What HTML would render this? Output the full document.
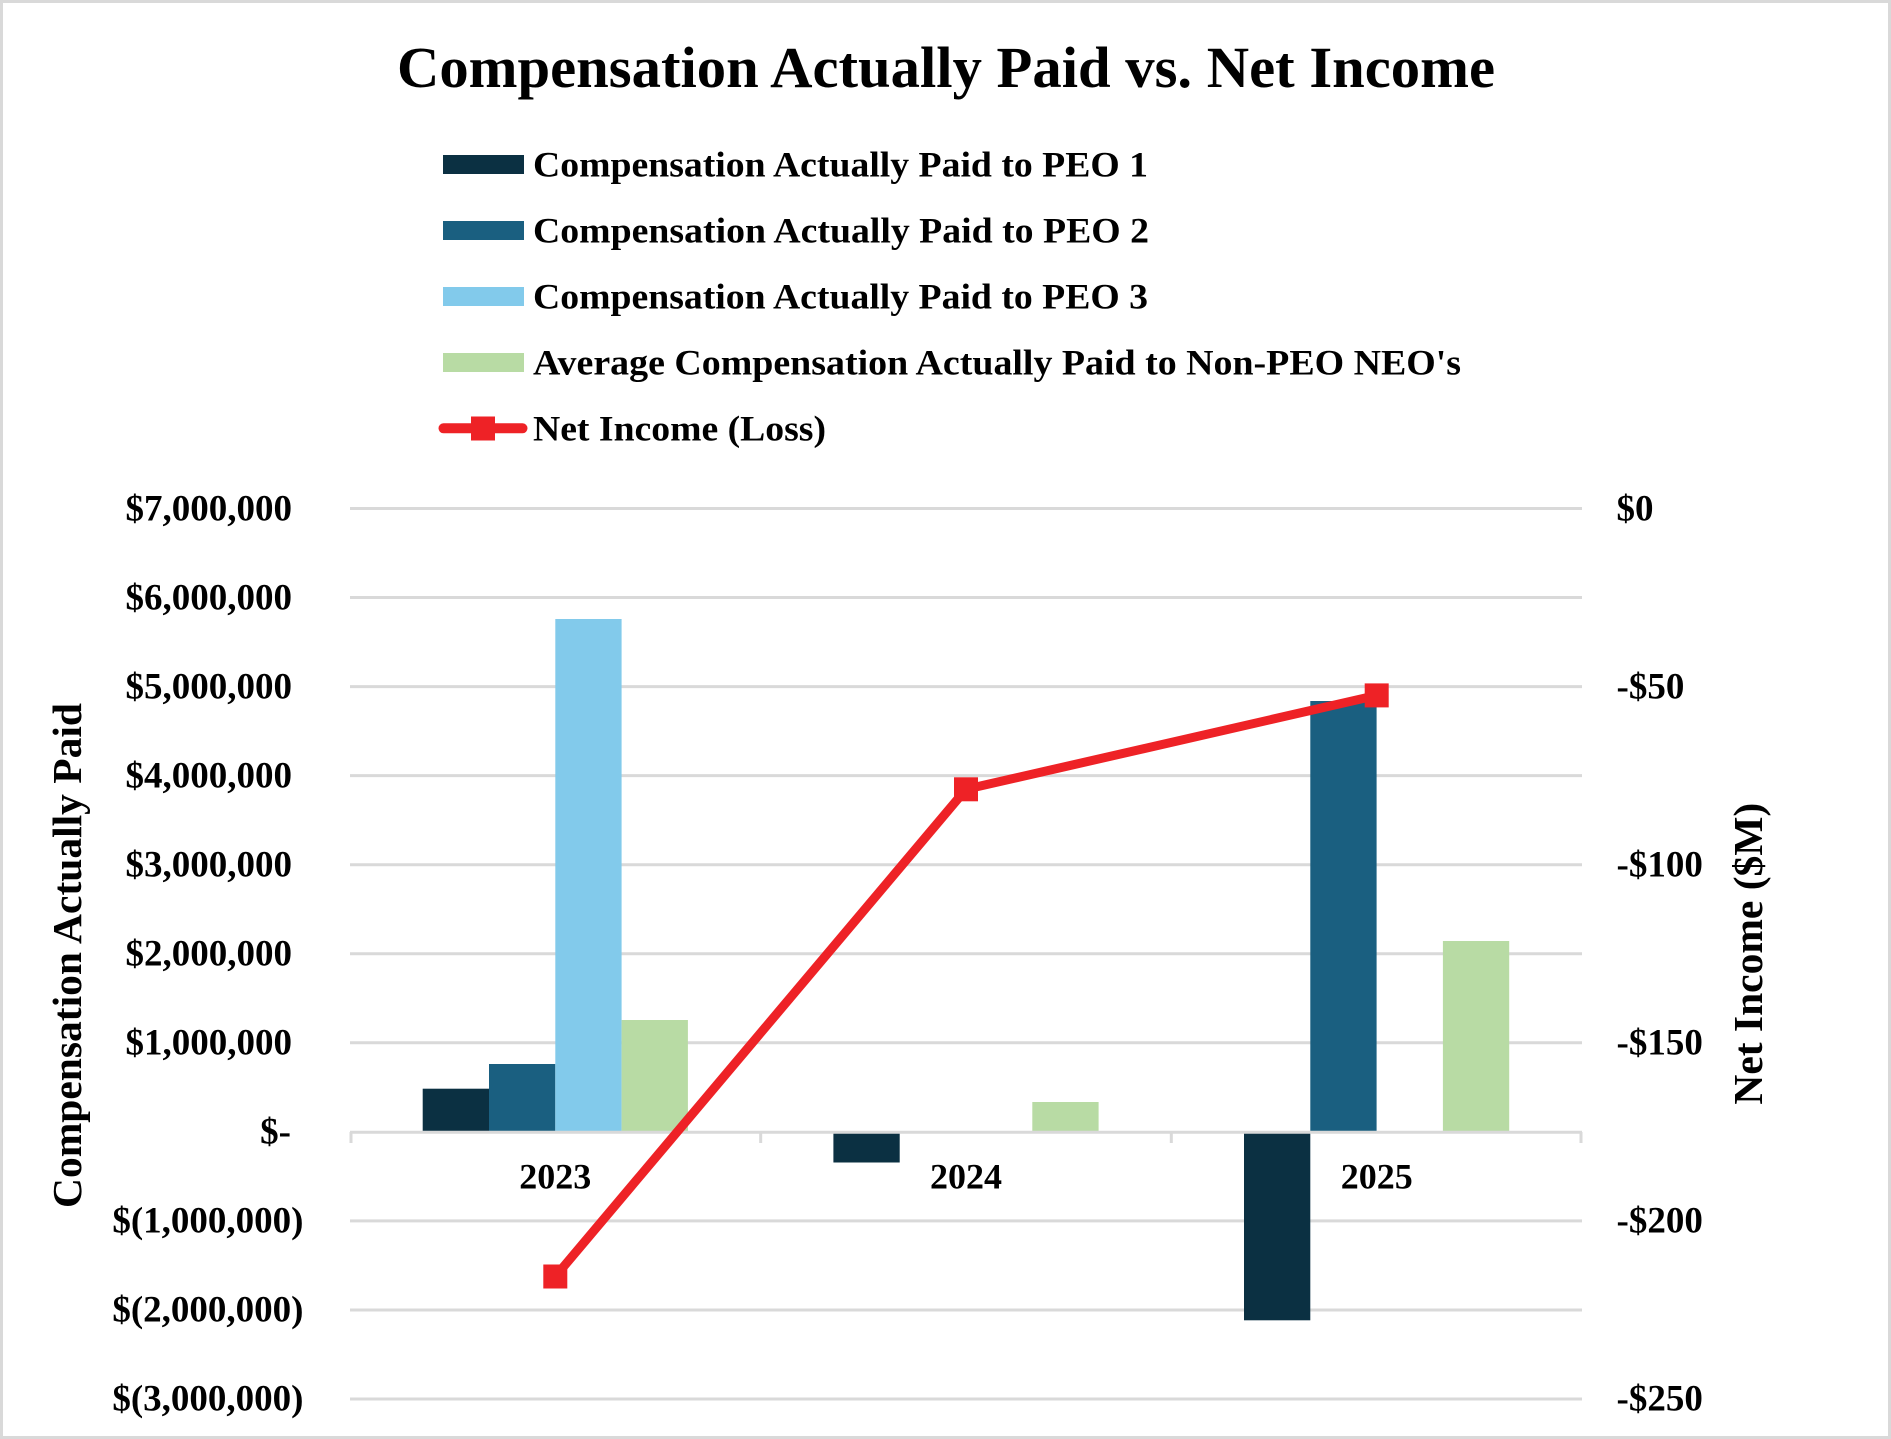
<!DOCTYPE html>
<html>
<head>
<meta charset="utf-8">
<style>
html,body{margin:0;padding:0;background:#fff;}
svg{display:block;}
text{font-family:"Liberation Serif","Times New Roman",serif;font-weight:bold;fill:#000;}
</style>
</head>
<body>
<svg width="1891" height="1439" viewBox="0 0 1891 1439" xmlns="http://www.w3.org/2000/svg">
  <rect x="0" y="0" width="1891" height="1439" fill="#fff"/>
  <rect x="1.5" y="1.5" width="1888" height="1436" fill="none" stroke="#d9d9d9" stroke-width="3"/>

  <!-- Title -->
  <text x="397" y="87" font-size="58.5" textLength="1098" lengthAdjust="spacingAndGlyphs">Compensation Actually Paid vs. Net Income</text>

  <!-- Legend -->
  <rect x="443" y="155" width="81" height="19" fill="#0b3042"/>
  <text x="533" y="176.5" font-size="35.5" textLength="615" lengthAdjust="spacingAndGlyphs">Compensation Actually Paid to PEO 1</text>
  <rect x="443" y="221" width="81" height="19" fill="#1a5f80"/>
  <text x="533" y="242.5" font-size="35.5" textLength="616" lengthAdjust="spacingAndGlyphs">Compensation Actually Paid to PEO 2</text>
  <rect x="443" y="287" width="81" height="19" fill="#82caeb"/>
  <text x="533" y="308.5" font-size="35.5" textLength="615" lengthAdjust="spacingAndGlyphs">Compensation Actually Paid to PEO 3</text>
  <rect x="443" y="353" width="81" height="19" fill="#b8dba4"/>
  <text x="533" y="374.5" font-size="35.5" textLength="928" lengthAdjust="spacingAndGlyphs">Average Compensation Actually Paid to Non-PEO NEO's</text>
  <line x1="443.5" y1="428.3" x2="522.5" y2="428.3" stroke="#ee2226" stroke-width="10" stroke-linecap="round"/>
  <rect x="471" y="416.5" width="24" height="24" fill="#ee2226"/>
  <text x="533" y="440.5" font-size="35.5" textLength="293" lengthAdjust="spacingAndGlyphs">Net Income (Loss)</text>

  <!-- Gridlines -->
  <g stroke="#d9d9d9" stroke-width="3">
    <line x1="350" y1="508.5" x2="1582" y2="508.5"/>
    <line x1="350" y1="597.55" x2="1582" y2="597.55"/>
    <line x1="350" y1="686.6" x2="1582" y2="686.6"/>
    <line x1="350" y1="775.65" x2="1582" y2="775.65"/>
    <line x1="350" y1="864.7" x2="1582" y2="864.7"/>
    <line x1="350" y1="953.75" x2="1582" y2="953.75"/>
    <line x1="350" y1="1042.8" x2="1582" y2="1042.8"/>
    <line x1="350" y1="1220.9" x2="1582" y2="1220.9"/>
    <line x1="350" y1="1309.95" x2="1582" y2="1309.95"/>
    <line x1="350" y1="1399" x2="1582" y2="1399"/>
  </g>

  <!-- Bars 2023 -->
  <rect x="422.7" y="1088.7" width="66.3" height="42.8" fill="#0b3042"/>
  <rect x="489" y="1064" width="66.3" height="67.5" fill="#1a5f80"/>
  <rect x="555.3" y="619" width="66.3" height="512.5" fill="#82caeb"/>
  <rect x="621.6" y="1020" width="66.3" height="111.5" fill="#b8dba4"/>
  <!-- Bars 2024 -->
  <rect x="833.4" y="1131.5" width="66.3" height="31" fill="#0b3042"/>
  <rect x="1032.3" y="1102" width="66.3" height="29.5" fill="#b8dba4"/>
  <!-- Bars 2025 -->
  <rect x="1244" y="1131.5" width="66.3" height="188.8" fill="#0b3042"/>
  <rect x="1310.3" y="701" width="66.3" height="430.5" fill="#1a5f80"/>
  <rect x="1442.9" y="941" width="66.3" height="190.5" fill="#b8dba4"/>

  <!-- Category axis -->
  <g stroke="#d9d9d9" stroke-width="3">
    <line x1="350" y1="1132.3" x2="1582" y2="1132.3"/>
    <line x1="351" y1="1132" x2="351" y2="1143"/>
    <line x1="760.7" y1="1132" x2="760.7" y2="1143"/>
    <line x1="1171.3" y1="1132" x2="1171.3" y2="1143"/>
    <line x1="1581" y1="1132" x2="1581" y2="1143"/>
  </g>

  <!-- Net income line -->
  <polyline points="555.3,1276.5 966,789.3 1376.7,695.4" fill="none" stroke="#ee2226" stroke-width="9" stroke-linejoin="round"/>
  <rect x="543.3" y="1264.5" width="24" height="24" fill="#ee2226"/>
  <rect x="954" y="777.3" width="24" height="24" fill="#ee2226"/>
  <rect x="1364.7" y="683.4" width="24" height="24" fill="#ee2226"/>

  <!-- Category labels -->
  <g font-size="36" text-anchor="middle">
    <text x="555.3" y="1188.5">2023</text>
    <text x="966" y="1188.5">2024</text>
    <text x="1376.7" y="1188.5">2025</text>
  </g>

  <!-- Left axis labels -->
  <g font-size="37" text-anchor="end">
    <text x="292" y="520.5">$7,000,000</text>
    <text x="292" y="609.5">$6,000,000</text>
    <text x="292" y="698.5">$5,000,000</text>
    <text x="292" y="787.5">$4,000,000</text>
    <text x="292" y="876.5">$3,000,000</text>
    <text x="292" y="965.5">$2,000,000</text>
    <text x="292" y="1054.5">$1,000,000</text>
    <text x="291" y="1143.5">$-</text>
    <text x="303.5" y="1232.5">$(1,000,000)</text>
    <text x="303.5" y="1321.5">$(2,000,000)</text>
    <text x="303.5" y="1410.5">$(3,000,000)</text>
  </g>

  <!-- Right axis labels -->
  <g font-size="37">
    <text x="1616.5" y="520.5">$0</text>
    <text x="1616.5" y="698.5">-$50</text>
    <text x="1616.5" y="876.5">-$100</text>
    <text x="1616.5" y="1054.5">-$150</text>
    <text x="1616.5" y="1232.5">-$200</text>
    <text x="1616.5" y="1410.5">-$250</text>
  </g>

  <!-- Axis titles -->
  <text x="0" y="0" font-size="41.5" text-anchor="middle" transform="translate(81,955.5) rotate(-90)">Compensation Actually Paid</text>
  <text x="0" y="0" font-size="41.5" text-anchor="middle" transform="translate(1762,953.7) rotate(-90)">Net Income ($M)</text>
</svg>
</body>
</html>
